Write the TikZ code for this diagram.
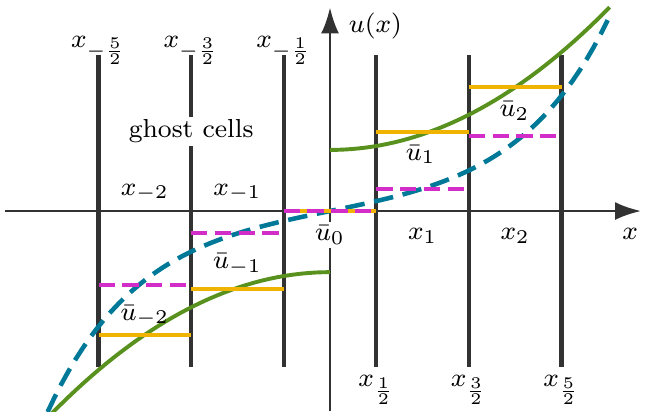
\documentclass[tikz,border=0pt]{standalone}
\usepackage{xcolor}
\usepackage{tikz}
\usetikzlibrary{positioning, arrows.meta}

\definecolor{curvegreen}{RGB}{88,145,30}
\definecolor{curveblue}{RGB}{0,120,152}
\definecolor{avgyellow}{RGB}{240,180,0}
\definecolor{avgmagenta}{RGB}{210,45,200}
\definecolor{linegray}{RGB}{50,50,50}

\begin{document}
\begin{tikzpicture}[
            axis/.style={
                    draw=linegray,
                    line width=0.85pt,
                    -{Latex[length=8pt,width=5.5pt]}
                },
            cellline/.style={
                    draw=linegray,
                    line width=1.3pt
                },
            exact/.style={
                    curvegreen,
                    line width=1.2pt
                },
            approx/.style={
                    curveblue,
                    line width=1.4pt,
                    dash pattern=on 6pt off 3pt
                },
            avg/.style={
                    avgyellow,
                    line width=1.05pt
                },
            avgdash/.style={
                    avgmagenta,
                    line width=1.2pt,
                    dash pattern=on 5pt off 2.3pt
                },
            lbl/.style={
                    anchor=base,
                    inner sep=1pt,
                    font=\footnotesize
                }
        ]

        \useasboundingbox (-3.564,-2.16) rectangle (3.488,2.279);


        % axes
        \draw[axis] (-3.51,0) -- (3.36,0);
        \draw[axis] (0,-2.16) -- (0,2.2);


        % cell interfaces
        \draw[cellline] (-2.5,-1.685) -- (-2.5,1.685);
        \draw[cellline] (-1.5,-1.685) -- (-1.5,1.685);
        \draw[cellline] (-0.5,-1.685) -- (-0.5,1.685);
        \draw[cellline] (0.5,-1.685) -- (0.5,1.685);
        \draw[cellline] (1.5,-1.685) -- (1.5,1.685);
        \draw[cellline] (2.5,-1.685) -- (2.5,1.685);


        % exact and reconstructed u(x)
        \draw[exact, domain=-3.15:0, samples=40]
        plot (\x, {-0.66-0.169*\x*\x});
        \draw[exact, domain=0:3.02, samples=40]
        plot (\x, {0.66+0.169*\x*\x});
        \draw[approx, domain=-3.05:3.0, samples=80]
        plot (\x, {0.103*(exp(\x)-exp(-\x))});


        % cell averages
        \draw[avg] (-2.5,-1.34) -- (-1.5,-1.34);
        \draw[avg] (-1.5,-0.84) -- (-0.5,-0.84);
        \draw[avg] (-0.5,0) -- (0.5,0);
        \draw[avg] (0.5,0.853) -- (1.5,0.853);
        \draw[avg] (1.5,1.34) -- (2.5,1.34);

        \draw[avgdash] (-2.5,-0.80) -- (-1.5,-0.80);
        \draw[avgdash] (-1.5,-0.24) -- (-0.5,-0.24);
        \draw[avgdash] (-0.5,0) -- (0.5,0);
        \draw[avgdash] (0.5,0.24) -- (1.5,0.24);
        \draw[avgdash] (1.5,0.81) -- (2.5,0.81);


        % labels
        \node[lbl] (ulab) at (0.49,1.93) {$u(x)$};
        \node[lbl] (xlab) at (3.24,-0.31) {$x$};

        \node[lbl] (im5) at (-2.5,1.77) {$x_{-\frac{5}{2}}$};
        \node[lbl] (im3) at (-1.5,1.77) {$x_{-\frac{3}{2}}$};
        \node[lbl] (im1) at (-0.5,1.77) {$x_{-\frac{1}{2}}$};
        \node[lbl] (ip1) at (0.5,-1.90) {$x_{\frac{1}{2}}$};
        \node[lbl] (ip3) at (1.5,-1.90) {$x_{\frac{3}{2}}$};
        \node[lbl] (ip5) at (2.5,-1.90) {$x_{\frac{5}{2}}$};

        \node[lbl, fill=white] (ghost) at (-1.5,0.79) {ghost cells};

        \node[lbl] (cm2) at (-2,0.17) {$x_{-2}$};
        \node[lbl] (cm1) at (-1,0.17) {$x_{-1}$};
        \node[lbl] (cp1) at (1,-0.31) {$x_1$};
        \node[lbl] (cp2) at (2,-0.31) {$x_2$};

        \node[lbl] (um2) at (-2,-1.18) {$\bar{u}_{-2}$};
        \node[lbl] (um1) at (-1,-0.62) {$\bar{u}_{-1}$};
        \node[lbl, fill=white] (u0) at (0,-0.32) {$\bar{u}_0$};
        \node[lbl] (up1) at (0.98,0.55) {$\bar{u}_1$};
        \node[lbl] (up2) at (1.99,1.02) {$\bar{u}_2$};


    \end{tikzpicture}
\end{document}
